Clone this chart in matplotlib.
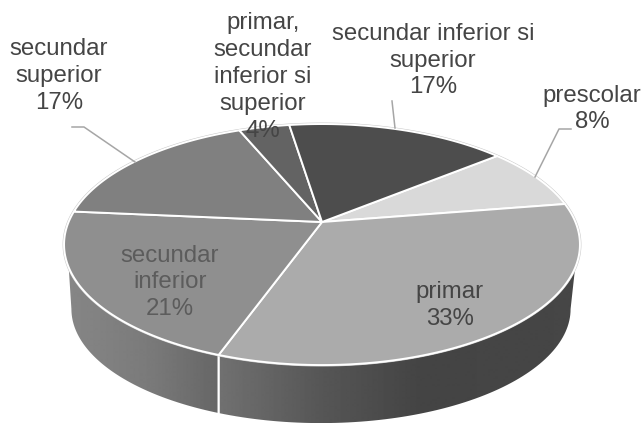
"""Perspective pie of education levels, drawn in pixel coordinates."""
import matplotlib

matplotlib.use("Agg")
import matplotlib.pyplot as plt
import numpy as np
from matplotlib.patches import Polygon

# clockwise from the start angle
categories = [
    "prescolar",
    "primar",
    "secundar\ninferior",
    "secundar\nsuperior",
    "primar,\nsecundar\ninferior si\nsuperior",
    "secundar inferior si\nsuperior",
]
values = [8.4, 33.0, 21.0, 17.3, 3.8, 16.5]
percent_labels = ["8%", "33%", "21%", "17%", "4%", "17%"]
face_colors = ["#d9d9d9", "#ababab", "#8f8f8f", "#808080", "#636363", "#4d4d4d"]
text_colors = ["#454545", "#454545", "#5c5c5c", "#454545", "#454545", "#454545"]
label_pos = [(592, 109), (450, 305.5), (170, 282.5), (59, 76), (263, 77), (433, 60.5)]

# where the pie sits in the picture
START_ANGLE = 39.4
APEX_X, APEX_Y = 322.0, 222.0
PERSP = 0.187
SCALE_X, SCALE_Y = 253.4, 116.3
BASE_X, BASE_Y, BASE_RX, BASE_RY = 321.0, 309.0, 250.5, 115.0

LEADERS = [
    [(72, 127), (84, 127), (135, 162)],
    [(392, 101), (395, 128)],
    [(571, 129), (559, 129), (535, 177)],
]


def rim(deg):
    """Project points of the pie circle (angle in degrees) onto the picture."""
    t = np.radians(deg)
    den = 1 + PERSP * np.sin(t)
    return APEX_X + SCALE_X * np.cos(t) / den, APEX_Y - SCALE_Y * np.sin(t) / den


def base(deg):
    t = np.radians(deg)
    return BASE_X + BASE_RX * np.cos(t), BASE_Y - BASE_RY * np.sin(t)


def wall(ax, rim_from, rim_to, base_from, base_to, stops):
    """Side wall between two rim angles, filled with a horizontal gradient."""
    top = np.array(rim(np.linspace(rim_from, rim_to, 80))).T
    low = np.array(base(np.linspace(base_to, base_from, 80))).T
    poly = Polygon(np.vstack([top, low]), closed=True, fc="none", ec="white", lw=1.3, zorder=3)
    ax.add_patch(poly)
    xs = np.arange(0, 645)
    shade = np.interp(xs, [s[0] for s in stops], [s[1] for s in stops])
    img = ax.imshow(shade[None, :], extent=(0, 644, 423, 0), cmap="gray", vmin=0, vmax=255,
                    aspect="auto", interpolation="bilinear", zorder=2)
    img.set_clip_path(poly)


fig = plt.figure(figsize=(6.44, 4.23), dpi=100)
ax = fig.add_axes([0, 0, 1, 1])

# the boundary between the two walls sits where primar ends on the rim
edges = START_ANGLE - np.cumsum([0] + values) / sum(values) * 360
split = edges[2]
split_x = rim(split)[0]
split_base = np.degrees(np.arccos((split_x - BASE_X) / BASE_RX)) * -1

wall(ax, -160, split, -180, split_base, [(70, 134), (150, 122), (220, 102)])
wall(ax, split, -20, split_base, 0, [(222, 112), (322, 86), (420, 68), (575, 70)])

# thin grey outline round the top face
ring = np.array(rim(np.linspace(0, 360, 361))).T
ax.add_patch(Polygon(ring, closed=True, fc="none", ec="#c8c8c8", lw=2.1, zorder=4))

for i in range(len(values)):
    angles = np.linspace(edges[i], edges[i + 1], 120)
    pts = np.array(rim(angles)).T
    pts = np.vstack([[APEX_X, APEX_Y], pts])
    ax.add_patch(Polygon(pts, closed=True, fc=face_colors[i], ec="white", lw=1.4,
                         joinstyle="round", zorder=5))

for path in LEADERS:
    xs, ys = zip(*path)
    ax.plot(xs, ys, color="#a6a6a6", lw=1.1, zorder=6)

for name, pct, pos, col in zip(categories, percent_labels, label_pos, text_colors):
    ax.text(pos[0], pos[1], f"{name}\n{pct}", ha="center", va="center", ma="center",
            color=col, fontsize=17.3, family="Liberation Sans", linespacing=1.29, zorder=7)

ax.set_xlim(0, 644)
ax.set_ylim(423, 0)
ax.axis("off")
fig.savefig("out.png", dpi=100)
plt.close(fig)
